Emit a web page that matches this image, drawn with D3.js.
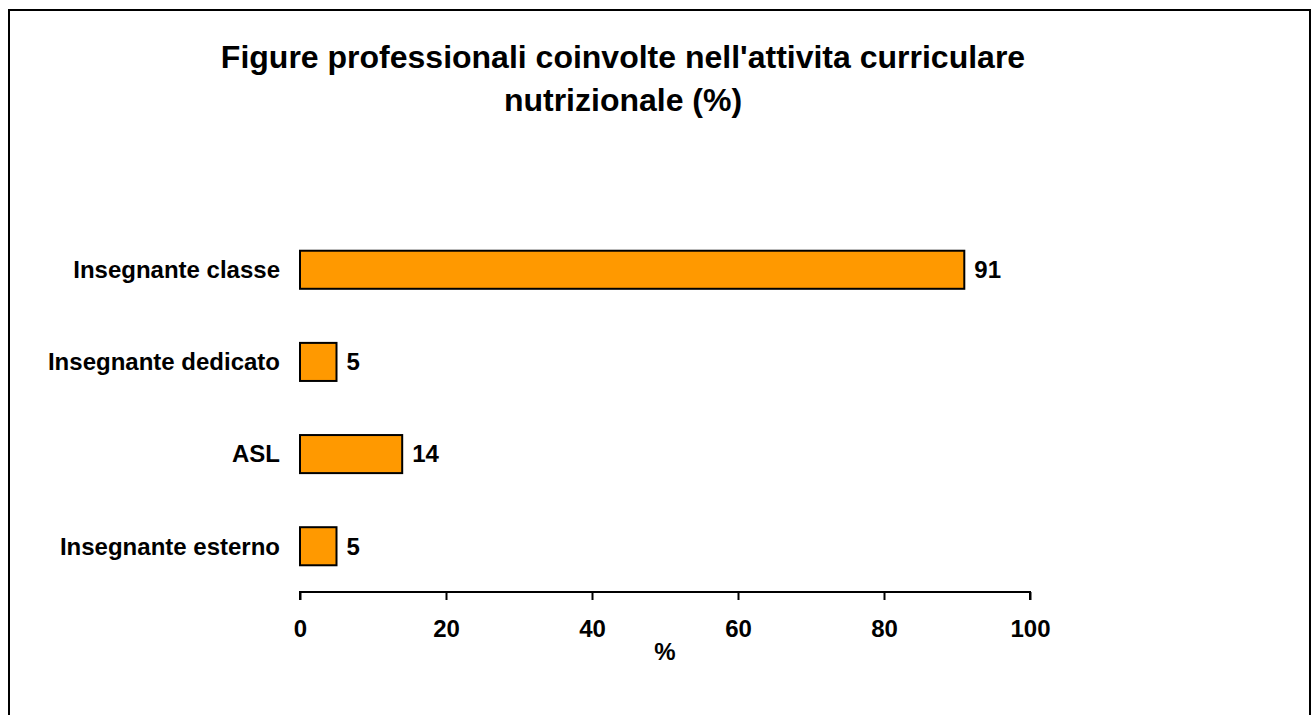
<!DOCTYPE html>
<html><head><meta charset="utf-8">
<script src="https://cdn.jsdelivr.net/npm/d3@7/dist/d3.min.js"></script>
<style>body{margin:0;background:#fff}svg{display:block}text{font-family:Arial,"Liberation Sans",sans-serif;font-weight:bold;fill:#000}</style>
</head><body>
<svg id="c" width="1311" height="715"></svg>
<script>
const categories = ["Insegnante classe","Insegnante dedicato","ASL","Insegnante esterno"];
const values = [91,5,14,5];
const tickValues = [0,20,40,60,80,100];
const titleLines = ["Figure professionali coinvolte nell'attivita curriculare","nutrizionale (%)"];
const axisTitle = "%";

const svg = d3.select("#c");
svg.append("path").attr("d","M9,715 V10 H1310 V715").attr("fill","none").attr("stroke","#000").attr("stroke-width",2);

svg.selectAll(".t").data(titleLines).enter().append("text")
  .attr("x",623).attr("y",(d,i)=>57+i*43).attr("dy","0.35em").attr("text-anchor","middle")
  .style("font-size","32px").text(d=>d);

const x = d3.scaleLinear().domain([0,100]).range([300,1030]);
const y = d3.scaleBand().domain(categories).range([224,592]).paddingInner(0.587).paddingOuter(0.29);

svg.selectAll("rect.bar").data(values).enter().append("rect")
  .attr("x",x(0)).attr("y",(d,i)=>y(categories[i]))
  .attr("width",d=>x(d)-x(0)).attr("height",y.bandwidth())
  .attr("fill","#FF9900").attr("stroke","#000").attr("stroke-width",2);

svg.selectAll("text.val").data(values).enter().append("text")
  .attr("x",d=>x(d)+10).attr("y",(d,i)=>y(categories[i])+y.bandwidth()/2)
  .attr("dy","0.35em").style("font-size","24px").text(d=>d);

svg.selectAll("text.cat").data(categories).enter().append("text")
  .attr("x",280).attr("y",d=>y(d)+y.bandwidth()/2).attr("dy","0.35em")
  .attr("text-anchor","end").style("font-size","24px").text(d=>d);

const ax = svg.append("g").attr("transform","translate(0,592)")
  .call(d3.axisBottom(x).tickValues(tickValues).tickSize(8).tickPadding(20).tickFormat(d3.format("d")));
ax.select(".domain").attr("stroke","#000").attr("stroke-width",2).attr("d","M300,8V0H1030V8");
ax.selectAll(".tick line").attr("stroke","#000").attr("stroke-width",2);
ax.selectAll(".tick text").style("font-size","24px").style("font-family","Arial, 'Liberation Sans', sans-serif").style("font-weight","bold").attr("fill","#000");

svg.append("text").attr("x",665).attr("y",652).attr("dy","0.35em").attr("text-anchor","middle").style("font-size","24px").text(axisTitle);
</script>
</body></html>
